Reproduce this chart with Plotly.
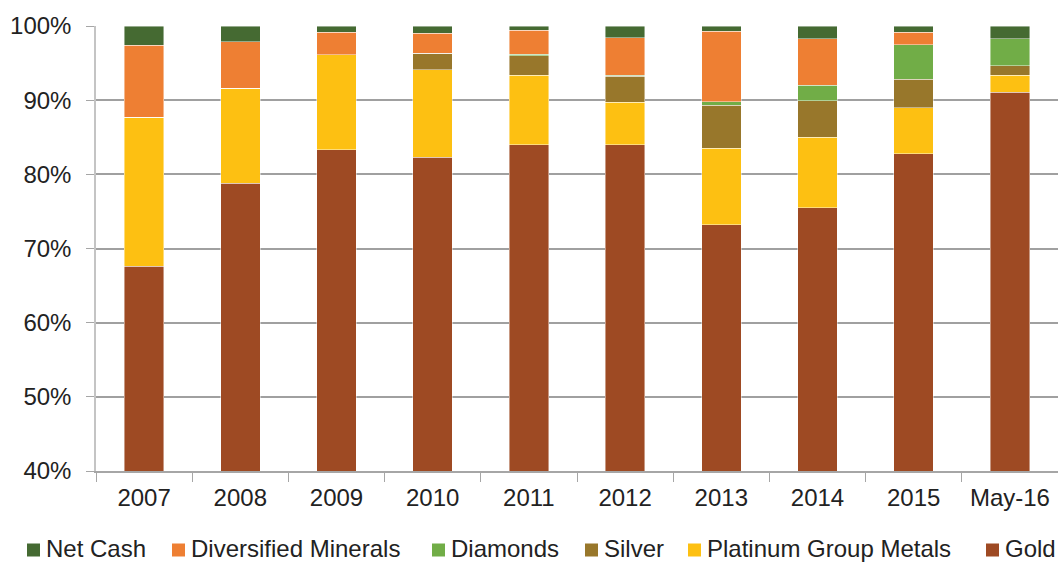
import plotly.graph_objects as go

categories = ["2007", "2008", "2009", "2010", "2011", "2012", "2013", "2014", "2015", "May-16"]

gold = [67.6, 78.8, 83.3, 82.3, 84.0, 84.0, 73.2, 75.5, 82.8, 91.1]
pgm = [20.1, 12.8, 12.8, 11.8, 9.35, 5.7, 10.3, 9.5, 6.2, 2.25]
silver = [0.0, 0.0, 0.0, 2.2, 2.65, 3.5, 5.8, 4.9, 3.85, 1.3]
diamonds = [0.0, 0.0, 0.0, 0.0, 0.2, 0.15, 0.5, 2.1, 4.65, 3.6]
diversified = [9.7, 6.3, 3.05, 2.7, 3.2, 5.05, 9.5, 6.3, 1.65, 0.0]
net_cash = [2.6, 2.1, 0.85, 1.0, 0.6, 1.6, 0.7, 1.7, 0.85, 1.7]

y_tick_values = [40, 50, 60, 70, 80, 90, 100]
y_tick_labels = ["40%", "50%", "60%", "70%", "80%", "90%", "100%"]

series = [
    ("Gold", gold, "#9E4A23"),
    ("Platinum Group Metals", pgm, "#FDC012"),
    ("Silver", silver, "#98772B"),
    ("Diamonds", diamonds, "#71AD47"),
    ("Diversified Minerals", diversified, "#EE7F33"),
    ("Net Cash", net_cash, "#456A32"),
]

W, H = 1058, 564
ML, MR, MT, MB = 96, 0, 26, 93
PW, PH = W - ML - MR, H - MT - MB

fig = go.Figure()
for name, vals, color in series:
    fig.add_trace(go.Bar(
        x=categories, y=vals, name=name,
        marker=dict(color=color, line=dict(color="rgba(255,255,255,0.55)", width=0.8)),
    ))

font_family = "Liberation Sans, Arial, sans-serif"
text_color = "#222222"

# Legend drawn as real text + swatches (reference order: top of stack first)
legend_left_px = [27, 172, 432, 585, 688, 986]
legend_bottom_px = 563
legend_cy_px = 550
box = 13
shapes = []
annotations = []
for (name, _, color), lx in zip(reversed(series), legend_left_px):
    x0 = (lx - ML) / PW
    x1 = (lx + box - ML) / PW
    y0 = (H - MB - (legend_cy_px + box / 2)) / PH
    y1 = (H - MB - (legend_cy_px - box / 2)) / PH
    shapes.append(dict(type="rect", xref="paper", yref="paper", x0=x0, x1=x1, y0=y0, y1=y1,
                       fillcolor=color, line=dict(width=0), layer="above"))
    annotations.append(dict(
        xref="paper", yref="paper",
        x=(lx + box + 5 - ML) / PW, y=(H - MB - legend_bottom_px) / PH,
        xanchor="left", yanchor="bottom", text=name, showarrow=False,
        font=dict(family=font_family, size=24, color=text_color),
        borderpad=0,
    ))

fig.update_layout(
    barmode="stack",
    bargap=0.59,
    width=W, height=H,
    margin=dict(l=ML, r=MR, t=MT, b=MB, autoexpand=False),
    plot_bgcolor="white", paper_bgcolor="white",
    font=dict(family=font_family, size=24, color=text_color),
    showlegend=False,
    shapes=shapes,
    annotations=annotations,
    xaxis=dict(
        showgrid=False, showline=True, linecolor="#A6A6A6", linewidth=1.5,
        ticks="outside", tickson="boundaries", ticklen=9, tickcolor="#A6A6A6", tickwidth=1,
        ticklabelstandoff=4,
        tickfont=dict(size=24, color=text_color), automargin=False,
    ),
    yaxis=dict(
        range=[40, 100], tickmode="array", tickvals=y_tick_values, ticktext=y_tick_labels,
        showgrid=True, gridcolor="#A0A0A0", gridwidth=1.5,
        showline=True, linecolor="#C4C4C4", linewidth=1.5,
        ticks="outside", ticklen=8, tickcolor="#A6A6A6", tickwidth=1,
        ticklabelstandoff=10,
        tickfont=dict(size=24, color=text_color),
        zeroline=False, automargin=False,
    ),
)

fig.write_html("out.html")
